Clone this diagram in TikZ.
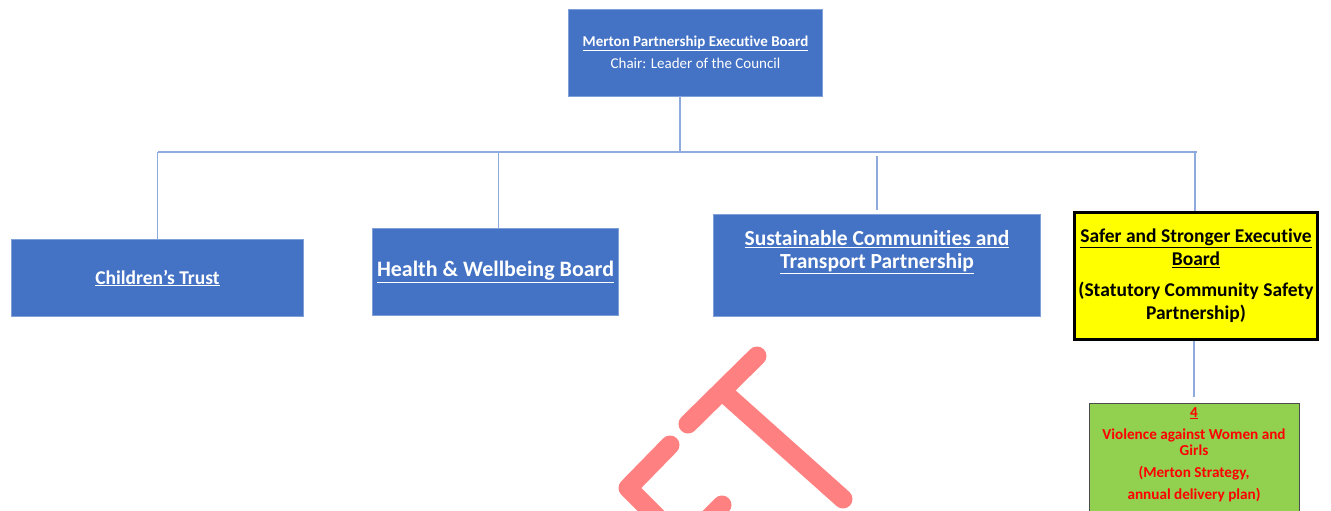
\documentclass[tikz,border=0pt]{standalone}
\usepackage{fontspec}
\setmainfont{Carlito}[Ligatures={NoCommon}]
\usetikzlibrary{positioning,calc}

\definecolor{boardblue}{HTML}{4472C4}
\definecolor{boardedge}{HTML}{7F9FD8}
\definecolor{linkblue}{HTML}{8FAADC}
\definecolor{safeyellow}{HTML}{FFFF00}
\definecolor{vawggreen}{HTML}{92D050}
\definecolor{vawgred}{HTML}{FF0000}
\definecolor{logored}{HTML}{FF8080}

\tikzset{
  bluebox/.style={draw=boardedge,line width=0.8pt,fill=boardblue,text=white,
    align=center,inner sep=0pt},
  link/.style={draw=linkblue,line width=1.2pt},
  logostroke/.style={draw=logored,line width=19pt,line cap=round,line join=round}
}

\begin{document}
\begin{tikzpicture}[x=1pt,y=-1pt]
  \clip (0,0) rectangle (1331,511);
  \fill[white] (0,0) rectangle (1331,511);

  % boards
  \node[bluebox,minimum width=254pt,minimum height=87pt,
    font=\fontsize{15}{22}\selectfont] (meb) at (695.5,52.5)
    {\textbf{\underline{Merton Partnership Executive Board}}\\Chair: Leader of the Council};
  \node[bluebox,minimum width=292pt,minimum height=77pt,
    font=\fontsize{19.5}{23}\selectfont\bfseries] (ct) at (157.5,278)
    {\underline{Children’s Trust}};
  \node[bluebox,minimum width=246pt,minimum height=87pt,
    font=\fontsize{22}{26}\selectfont\bfseries] (hwb) at (495.5,272)
    {\underline{Health \& Wellbeing Board}};
  \node[bluebox,minimum width=327pt,minimum height=102pt] (sct) at (877,265.5) {};
  \node[text=white,align=center,inner sep=0pt,
    font=\fontsize{21.5}{23}\selectfont\bfseries] (sctlbl) at ([yshift=13pt]sct.center)
    {\underline{Sustainable Communities and}\\\underline{Transport Partnership}};
  \node[draw=black,line width=3pt,fill=safeyellow,minimum width=243pt,minimum height=127pt,
    align=center,inner sep=0pt,font=\fontsize{19.5}{23}\selectfont\bfseries] (ssb) at (1196,276)
    {\underline{Safer and Stronger Executive}\\\underline{Board}\\[8pt](Statutory Community Safety\\Partnership)};
  \node[draw=black!70,line width=0.8pt,fill=vawggreen,minimum width=210pt,minimum height=140pt,
    anchor=north,inner sep=0pt] (vawg) at (1194,403) {};
  \node[text=vawgred,align=center,inner sep=0pt,anchor=north,
    font=\fontsize{15.2}{16}\selectfont\bfseries] (vawglbl) at ([yshift=-4pt]vawg.north)
    {\underline{4}\\[6pt]Violence against Women and\\Girls\\[6pt](Merton Strategy,\\[6pt]annual delivery plan)};

  % connectors
  \coordinate (busL) at (158,152);
  \coordinate (busR) at (1197,152);
  \draw[link] (busL) -- (busR);
  \draw[link] ([xshift=-15.5pt]meb.south) -- ([xshift=-15.5pt]meb.south |- busL);
  \draw[link] (ct.north) -- (ct.north |- busL);
  \draw[link] ([xshift=3pt]hwb.north) -- ([xshift=3pt]hwb.north |- busL);
  \draw[link] ([yshift=4pt]sct.north) -- ($(sct.north |- busL)+(0,4)$);
  \draw[link] ([xshift=-1pt]ssb.north) -- ([xshift=-1pt]ssb.north |- busL);
  \draw[link,shorten >=6pt] (ssb.south -| vawg.north) -- (vawg.north);

  % logo
  \draw[logostroke] (688,424) -- (757,356);
  \draw[logostroke] (722,391) -- (843,499);
  \draw[logostroke] (670,445) -- (628,488) -- (668,528);
  \draw[logostroke] (722,505) -- (690,537);
\end{tikzpicture}
\end{document}
